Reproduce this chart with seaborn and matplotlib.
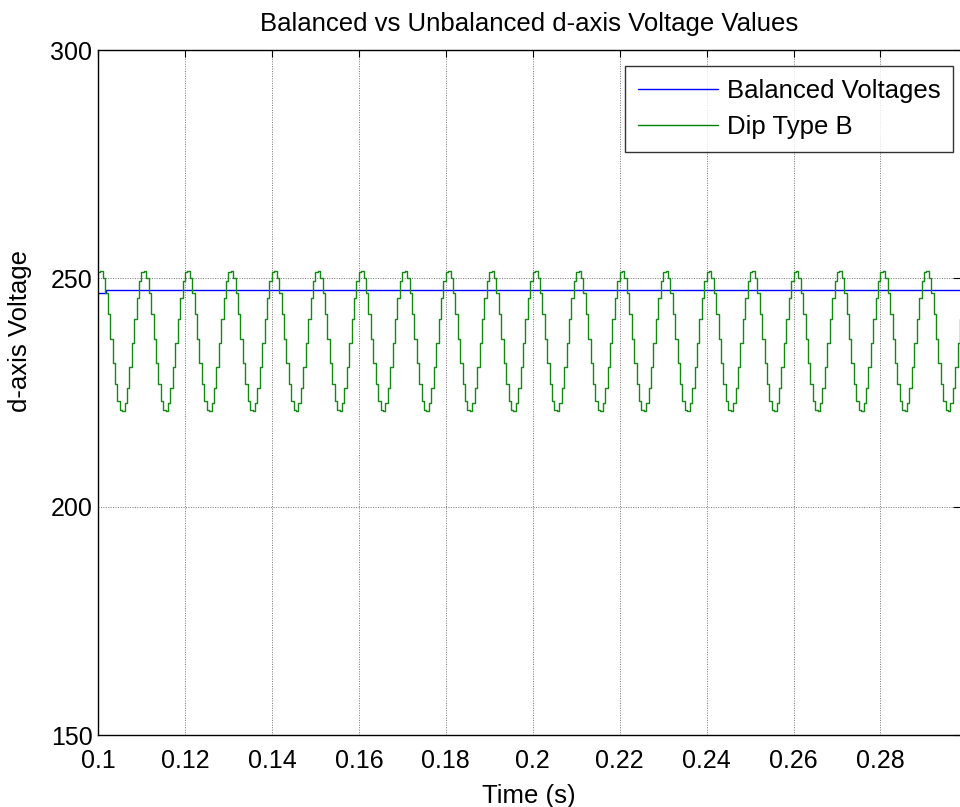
import numpy as np
import pandas as pd
import matplotlib
matplotlib.use("Agg")
import matplotlib.pyplot as plt
import seaborn as sns

# Balanced d-axis voltage (small step right after the start)
bal_t = [0.1, 0.1018, 0.3]
bal_v = [246.9, 247.4, 247.4]

# One cycle (0.01 s, 18 samples) of the Dip Type B d-axis voltage
dip_cycle = [251.5, 251.6, 250.0, 246.7, 242.1, 236.8, 231.5, 226.8, 223.2,
             221.1, 221.0, 222.6, 225.9, 230.5, 235.8, 241.1, 245.8, 249.4]
n_cycles = 20
sample_time = 0.01 / len(dip_cycle)

dip_v = np.tile(dip_cycle, n_cycles)
dip_t = 0.1 + np.arange(len(dip_v)) * sample_time

xticks = [0.1, 0.12, 0.14, 0.16, 0.18, 0.2, 0.22, 0.24, 0.26, 0.28]
xtick_labels = ["0.1", "0.12", "0.14", "0.16", "0.18", "0.2", "0.22", "0.24", "0.26", "0.28"]
yticks = [150, 200, 250, 300]

bal = pd.DataFrame({"t": bal_t, "v": bal_v})
dip = pd.DataFrame({"t": dip_t, "v": dip_v})

sns.set_style("white")
plt.rcParams["font.family"] = ["Liberation Sans", "DejaVu Sans"]
plt.rcParams["text.color"] = "black"
plt.rcParams["axes.labelcolor"] = "black"
plt.rcParams["xtick.color"] = "black"
plt.rcParams["ytick.color"] = "black"

fig = plt.figure(figsize=(9.6, 8.07), dpi=100)
ax = fig.add_axes([0.1021, 0.0892, 0.8979, 0.8488])

sns.lineplot(data=bal, x="t", y="v", ax=ax, color="#0000FF", linewidth=1.0,
             drawstyle="steps-post", estimator=None, label="Balanced Voltages")
sns.lineplot(data=dip, x="t", y="v", ax=ax, color="#138a13", linewidth=1.0,
             drawstyle="steps-post", estimator=None, label="Dip Type B")

ax.set_xlim(0.1, 0.2983)
ax.set_ylim(150, 300)
ax.set_xticks(xticks)
ax.set_xticklabels(xtick_labels)
ax.set_yticks(yticks)

ax.grid(True, color="0.45", linestyle=(0, (1, 1.5)), linewidth=0.7)
ax.tick_params(direction="in", length=5, width=0.8, top=True, right=True,
               labelsize=18, color="black")
ax.tick_params(axis="x", pad=10)
ax.tick_params(axis="y", pad=4)

for side in ["left", "bottom", "top"]:
    ax.spines[side].set_color("black")
    ax.spines[side].set_linewidth(1.0)
ax.spines["right"].set_visible(False)

ax.set_title("Balanced vs Unbalanced d-axis Voltage Values", fontsize=18.5, pad=14)
ax.set_xlabel("Time (s)", fontsize=18.5, labelpad=8)
ax.set_ylabel("d-axis Voltage", fontsize=18.5)
ax.yaxis.set_label_coords(-0.077, 0.59)

leg = ax.legend(loc="upper right", bbox_to_anchor=(0.992, 0.977), fontsize=18.5,
                frameon=True, fancybox=False, handlelength=3.1, handletextpad=0.35,
                labelspacing=0.49, borderpad=0.5, borderaxespad=0)
leg.get_frame().set_edgecolor("black")
leg.get_frame().set_linewidth(1.0)
leg.get_lines()[1].set_color("#008000")

fig.savefig("out.png", dpi=100)
